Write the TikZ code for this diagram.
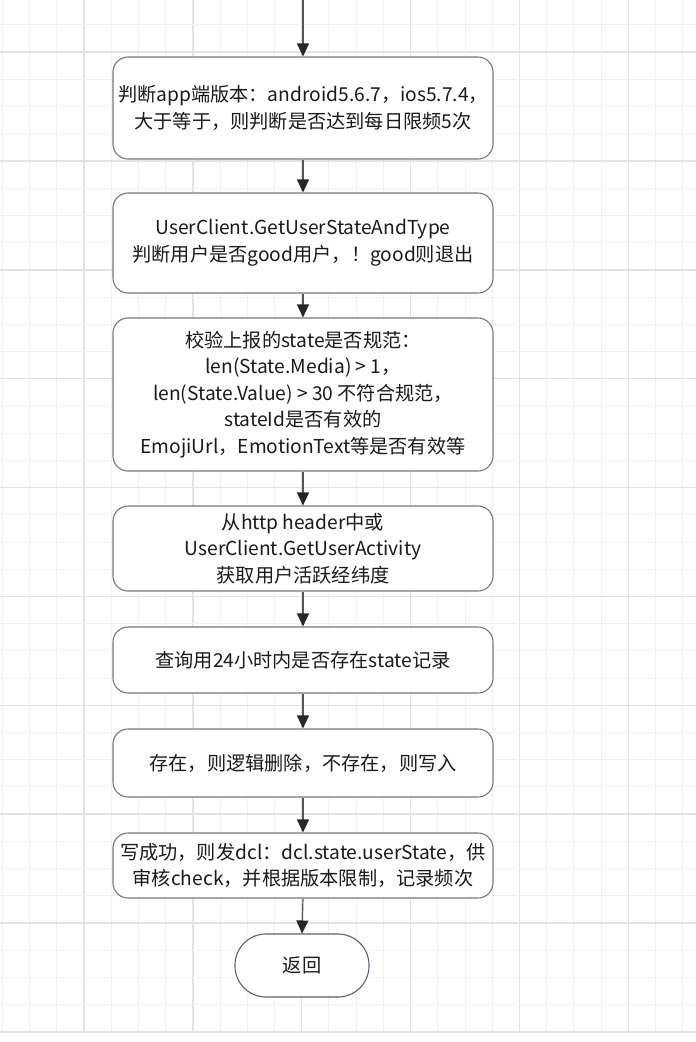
\documentclass[tikz,border=0pt]{standalone}
\usepackage{fontspec}
\setmainfont{Noto Sans CJK SC}
\usetikzlibrary{arrows.meta}
\definecolor{gridminor}{HTML}{F0F0F0}
\definecolor{gridmajor}{HTML}{E2E2E2}
\definecolor{boxline}{HTML}{777777}
\definecolor{termline}{HTML}{5E5E70}
\definecolor{txt}{HTML}{1A1A1A}
\definecolor{arrline}{HTML}{555555}
\tikzset{
  procbox/.style={draw=boxline, line width=1.1pt, rounded corners=15pt, fill=white,
    minimum width=380pt, inner sep=0pt, align=center, text=txt,
    font=\fontsize{19.2}{26.5}\selectfont},
  termbox/.style={draw=termline, line width=1.1pt, rounded corners=31pt, fill=white,
    minimum width=134pt, minimum height=63pt, inner sep=0pt, align=center, text=txt,
    font=\fontsize{19.2}{26.5}\selectfont},
  flow/.style={draw=arrline, line width=1.2pt, -{Triangle[length=13pt,width=12pt,color=black!85]}}
}
\begin{document}
\begin{tikzpicture}[x=1pt,y=-1pt]
\useasboundingbox (0,0) rectangle (696,1042);
\fill[white] (0,0) rectangle (696,1042);
% grid
\foreach \k in {0,...,25}{
  \pgfmathsetmacro{\xx}{2.3+27.22*\k}
  \pgfmathtruncatemacro{\mm}{mod(\k+1,4)}
  \ifnum\mm=0
    \draw[gridmajor, line width=1.5pt] (\xx,0) -- (\xx,1032);
  \else
    \draw[gridminor, line width=1pt] (\xx,0) -- (\xx,1032);
  \fi
}
\foreach \k in {1,...,38}{
  \pgfmathsetmacro{\yy}{-2.4+27.22*\k}
  \pgfmathtruncatemacro{\mm}{mod(\k+2,4)}
  \ifnum\mm=0
    \draw[gridmajor, line width=1.5pt] (0,\yy) -- (696,\yy);
  \else
    \draw[gridminor, line width=1pt] (0,\yy) -- (696,\yy);
  \fi
}
% nodes
\coordinate (start) at (303,0);
\node[procbox, minimum height=102pt] (b1) at (303,108)
  {判断app端版本：android5.6.7，ios5.7.4，\\大于等于，则判断是否达到每日限频5次};
\node[procbox, minimum height=100pt] (b2) at (303,243)
  {UserClient.GetUserStateAndType\\判断用户是否good用户，！good则退出};
\node[procbox, minimum height=153pt] (b3) at (303,394.5)
  {校验上报的state是否规范：\\len(State.Media) > 1，\\len(State.Value) > 30 不符合规范，\\stateId是否有效的\\EmojiUrl，EmotionText等是否有效等};
\node[procbox, minimum height=85pt] (b4) at (303,548.5)
  {从http header中或\\UserClient.GetUserActivity\\获取用户活跃经纬度};
\node[procbox, minimum height=66pt] (b5) at (303,660)
  {查询用24小时内是否存在state记录};
\node[procbox, minimum height=68pt] (b6) at (303,763)
  {存在，则逻辑删除，不存在，则写入};
\node[procbox, minimum height=65pt] (b7) at (303,865.5)
  {写成功，则发dcl：dcl.state.userState，供\\审核check，并根据版本限制，记录频次};
\node[termbox] (end) at (302,965.5) {返回};
% connectors
\draw[flow] (start) -- (b1.north);
\draw[flow] (b1) -- (b2);
\draw[flow] (b2) -- (b3);
\draw[flow] (b3) -- (b4);
\draw[flow] (b4) -- (b5);
\draw[flow] (b5) -- (b6);
\draw[flow] (b6) -- (b7);
\draw[flow] (b7.south) -- (end.north);
\end{tikzpicture}
\end{document}
